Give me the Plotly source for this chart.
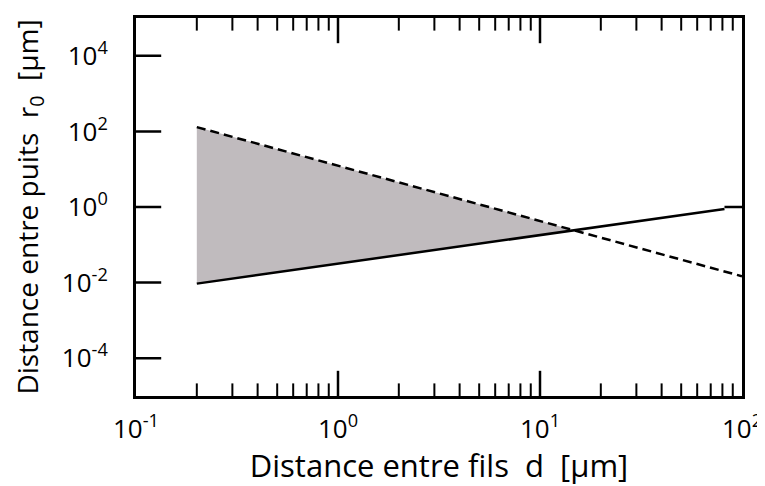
import plotly.graph_objects as go

# Data (log-log)
solid_x = [0.2, 81.9]
solid_y = [0.0094, 0.885]
solid_tail_x = [81.9, 100]
solid_tail_y = [1.0, 1.0]
dashed_x = [0.2, 100]
dashed_y = [130.0, 0.0147]
fill_x = [0.2, 0.2, 14.7, 0.2]
fill_y = [0.0094, 130.0, 0.242, 0.0094]

x_range = [0.1, 100]
y_range = [1e-5, 1e5]
x_tickvals = [0.1, 1, 10, 100]
x_ticktext = ["10<sup>-1</sup>", "10<sup>0</sup>", "10<sup>1</sup>", "10<sup>2</sup>"]
x_minor = [m * 10**e for e in (-1, 0, 1) for m in range(2, 10)]
y_tickvals = [1e-4, 1e-2, 1, 1e2, 1e4]
y_ticktext = ["10<sup>-4</sup>", "10<sup>-2</sup>", "10<sup>0</sup>", "10<sup>2</sup>", "10<sup>4</sup>"]

FONT = "Open Sans"
MAJ_LEN = 18
MIN_LEN = 9

fig = go.Figure()
fig.add_trace(go.Scatter(x=fill_x, y=fill_y, mode="lines", fill="toself",
                         fillcolor="rgb(192,187,190)", line=dict(width=0),
                         hoverinfo="skip", showlegend=False))
fig.add_trace(go.Scatter(x=dashed_x, y=dashed_y, mode="lines",
                         line=dict(color="black", width=2.5, dash="9px,5px"),
                         showlegend=False))
fig.add_trace(go.Scatter(x=solid_x, y=solid_y, mode="lines",
                         line=dict(color="black", width=2.5), showlegend=False))
fig.add_trace(go.Scatter(x=solid_tail_x, y=solid_tail_y, mode="lines",
                         line=dict(color="black", width=2.5), showlegend=False))

# Inside tick marks drawn as half-clipped line markers on the frame edges
inner_x = [v for v in x_tickvals if x_range[0] < v < x_range[1]]
for edge in y_range:
    fig.add_trace(go.Scatter(
        x=inner_x, y=[edge] * len(inner_x), mode="markers", cliponaxis=True,
        marker=dict(symbol="line-ns", size=2 * MAJ_LEN,
                    line=dict(color="black", width=2.5)),
        hoverinfo="skip", showlegend=False))
    fig.add_trace(go.Scatter(
        x=x_minor, y=[edge] * len(x_minor), mode="markers", cliponaxis=True,
        marker=dict(symbol="line-ns", size=2 * MIN_LEN,
                    line=dict(color="black", width=2)),
        hoverinfo="skip", showlegend=False))
fig.add_trace(go.Scatter(
    x=[x_range[0]] * len(y_tickvals), y=y_tickvals, mode="markers", cliponaxis=True,
    marker=dict(symbol="line-ew", size=2 * MAJ_LEN,
                line=dict(color="black", width=2.5)),
    hoverinfo="skip", showlegend=False))

fig.update_layout(
    width=757, height=478,
    margin=dict(l=128, r=23, t=10, b=90),
    paper_bgcolor="white", plot_bgcolor="white",
    font=dict(family=FONT, color="black", size=26),
    xaxis=dict(type="log", range=[-1, 2], showgrid=False, zeroline=False, automargin=False,
               showline=True, linecolor="black", linewidth=3, mirror=True,
               ticks="", tickmode="array", tickvals=x_tickvals, ticktext=x_ticktext,
               tickfont=dict(size=26, family=FONT), ticklabelstandoff=8,
               title=dict(text="Distance entre fils  d  [µm]", font=dict(size=31, family=FONT),
                          standoff=2)),
    yaxis=dict(type="log", range=[-5, 5], showgrid=False, zeroline=False, automargin=False,
               showline=True, linecolor="black", linewidth=3, mirror=True,
               ticks="", tickmode="array", tickvals=y_tickvals, ticktext=y_ticktext,
               tickfont=dict(size=26, family=FONT), ticklabelstandoff=20,
               title=dict(text="Distance entre puits  r<sub>0</sub>  [µm]",
                          font=dict(size=28, family=FONT), standoff=22)),
)

fig.write_html("out.html")
